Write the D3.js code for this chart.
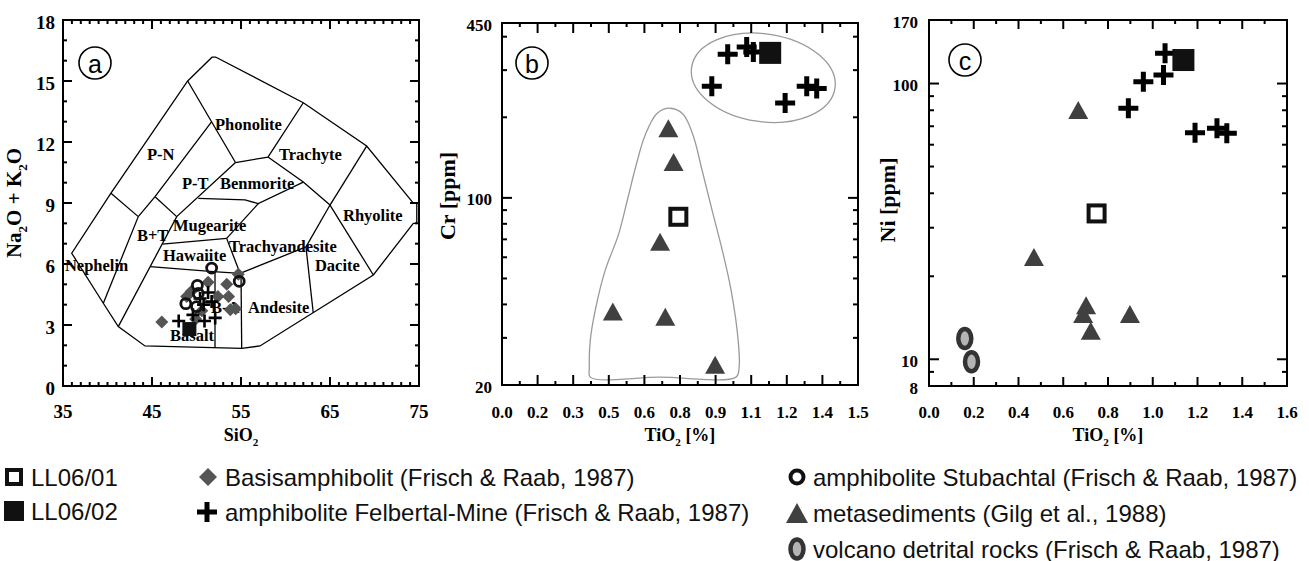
<!DOCTYPE html>
<html><head><meta charset="utf-8">
<script src="https://cdn.jsdelivr.net/npm/d3@7"></script>
<style>
body{margin:0;background:#fff;}
svg{display:block;}
</style></head><body>
<svg id="chart" width="1309" height="561"></svg>
<script>
// ---------------- DATA ----------------
// Panel a : TAS diagram (SiO2 vs Na2O+K2O)
const tasOuter = [[52.19,16.17],[51.74,16.17],[49.01,15.0],[40.39,9.48],[35.98,6.53],[39.53,4.07],[41.21,2.92],[44.21,1.97],[55.08,1.85],[57.13,1.97],[69.87,5.46],[74.36,8.0],[74.75,8.0],[74.75,8.99],[74.36,8.99],[69.12,11.80],[62.0,13.93],[52.19,16.17]];
const tasDividers = [
  [[39.53,4.07],[43.46,8.33]],
  [[40.39,9.48],[43.46,8.33]],
  [[43.46,8.33],[45.34,9.31],[51.71,13.0]],
  [[49.01,15.0],[54.38,10.99]],
  [[45.34,9.31],[47.78,8.33]],
  [[41.21,2.92],[47.78,8.33],[54.38,10.99]],
  [[54.38,10.99],[58.03,11.26],[62.0,13.93]],
  [[58.03,11.26],[62.0,10.03],[65.0,8.90]],
  [[50.20,9.23],[55.45,9.15],[56.94,8.97],[62.0,10.03]],
  [[56.94,8.97],[53.39,7.26]],
  [[46.15,6.98],[53.39,7.26]],
  [[53.39,7.26],[54.89,5.54]],
  [[44.79,5.87],[51.89,5.62],[54.89,5.54]],
  [[54.89,5.54],[62.30,6.84]],
  [[62.30,6.84],[65.0,8.90]],
  [[62.30,6.84],[63.12,3.59]],
  [[52.08,5.62],[52.08,1.88]],
  [[55.0,5.54],[55.08,1.85]],
  [[65.0,8.90],[69.87,5.46]],
  [[65.0,8.90],[69.12,11.80]]
];
const tasFieldNames = ["Phonolite","Trachyte","P-N","P-T","Benmorite","Rhyolite","Mugearite","B+T","Trachyandesite","Hawaiite","Nephelin","Dacite","B-A","Andesite","Basalt"];
const tasFieldX = [52.08,59.27,44.44,48.37,52.64,66.46,47.36,43.31,53.65,46.24,35.22,63.31,51.63,55.79,47.02];
const tasFieldY = [12.59,11.12,11.12,9.69,9.69,8.12,7.62,7.13,6.59,6.15,5.66,5.66,3.59,3.59,2.21];

const aBasisSiO2 = [46.1,48.9,49.4,51.3,53.4,54.7,53.6,53.8,54.4,50.6,52.4,49.9];
const aBasisAlk  = [3.15,4.4,4.65,5.1,5.0,5.5,4.4,3.75,3.8,3.7,4.4,3.3];
const aFelbSiO2  = [48.0,49.6,50.8,51.3,52.1,50.4,51.7,50.9];
const aFelbAlk   = [3.2,3.5,4.0,4.6,3.35,4.3,4.15,3.2];
const aStubSiO2  = [51.7,54.8,50.1,50.2,48.8,50.0];
const aStubAlk   = [5.8,5.15,4.95,4.55,4.05,3.9];
const aLL0602    = [[49.2,2.8]];
const aXTicks = [35,45,55,65,75];
const aYTicks = [0,3,6,9,12,15,18];

// Panel b : Cr vs TiO2
const bFelbTiO2 = [0.951,1.031,1.059,0.884,1.193,1.284,1.326];
const bFelbCr   = [344,366,351,261,226,261,256];
const bMetaTiO2 = [0.701,0.723,0.666,0.467,0.688,0.898];
const bMetaCr   = [182,136,68.5,37.6,36,23.8];
const bLL0601   = [[0.743,85]];
const bLL0602   = [[1.13,348]];
const bEnvelope = [[0.372,21.4],[0.666,21.4],[0.986,21.4],[0.999,23.2],[0.995,29.4],[0.965,45.3],[0.928,63.8],[0.885,90.0],[0.843,126.9],[0.805,171.4],[0.763,205.3],[0.709,216.2],[0.654,207.1],[0.603,171.4],[0.565,132.4],[0.528,98.0],[0.490,72.6],[0.435,53.7],[0.393,38.1],[0.372,29.4],[0.368,23.2]];
const bEllipseCenter = [1.101,281];
const bEllipseMajorEnd = [1.403,257];
const bEllipseMinorTop = 414;
const bXTickValues = [0,0.15,0.3,0.45,0.6,0.75,0.9,1.05,1.2,1.35,1.5];
const bXTickLabels = ["0.0","0.2","0.3","0.5","0.6","0.8","0.9","1.1","1.2","1.4","1.5"];
const bYTicks = [20,100,450];
const bYMinor = [30,40,50,60,70,80,90,200,300,400];

// Panel c : Ni vs TiO2
const cFelbTiO2 = [1.055,1.048,0.958,0.891,1.189,1.287,1.331];
const cFelbNi   = [128.7,107.4,101.5,81.3,66.3,68.8,66.0];
const cMetaTiO2 = [0.667,0.469,0.702,0.689,0.723,0.898];
const cMetaNi   = [80.2,23.5,15.7,14.6,12.7,14.6];
const cVolcTiO2 = [0.160,0.190];
const cVolcNi   = [11.9,9.8];
const cLL0601   = [[0.749,33.8]];
const cLL0602   = [[1.137,121.7]];
const cXTicks = [0,0.2,0.4,0.6,0.8,1.0,1.2,1.4,1.6];
const cXMinor = [0.1,0.3,0.5,0.7,0.9,1.1,1.3,1.5];
const cYTicks = [8,10,100,170];
const cYMinor = [9,20,30,40,50,60,70,80,90];

const legendLeft = ["LL06/01","LL06/02"];
const legendMid = ["Basisamphibolit (Frisch & Raab, 1987)","amphibolite Felbertal-Mine (Frisch & Raab, 1987)"];
const legendRight = ["amphibolite Stubachtal (Frisch & Raab, 1987)","metasediments (Gilg et al., 1988)","volcano detrital rocks (Frisch & Raab, 1987)"];

// ---------------- DRAWING ----------------
const svg = d3.select('#chart');
const SERIF = '"Liberation Serif","Times New Roman",serif';
const SANS = '"Liberation Sans",Arial,sans-serif';
const zip = (a,b)=>a.map((v,i)=>[v,b[i]]);

const xA = d3.scaleLinear([35,75],[63,419]);
const yA = d3.scaleLinear([0,18],[386,20]);
const xB = d3.scaleLinear([0,1.5],[502,858]);
const yB = d3.scaleLog([20,450],[385,23]);
const xC = d3.scaleLinear([0,1.6],[929,1287]);
const yC = d3.scaleLog([8,170],[386,20]);

function mPlus(g,x,y,h,sw){g.append('path').attr('d',`M${x-h},${y}H${x+h}M${x},${y-h}V${y+h}`).attr('stroke','#000').attr('stroke-width',sw).attr('fill','none');}
function mDiamond(g,x,y,r,fill){g.append('path').attr('d',`M${x},${y-r}L${x+r},${y}L${x},${y+r}L${x-r},${y}Z`).attr('fill',fill);}
function mTri(g,x,y,w,h,fill){g.append('path').attr('d',`M${x},${y-h/2}L${x+w/2},${y+h/2}L${x-w/2},${y+h/2}Z`).attr('fill',fill);}
function mSqFilled(g,x,y,s){g.append('rect').attr('x',x-s/2).attr('y',y-s/2).attr('width',s).attr('height',s).attr('fill','#111');}
function mSqOpen(g,x,y,s,sw){g.append('rect').attr('x',x-s/2).attr('y',y-s/2).attr('width',s).attr('height',s).attr('fill','#fff').attr('stroke','#111').attr('stroke-width',sw);}
function mCircle(g,x,y,r,sw){g.append('circle').attr('cx',x).attr('cy',y).attr('r',r).attr('fill','none').attr('stroke','#111').attr('stroke-width',sw);}
function mEllipse(g,x,y,rx,ry,sw){g.append('ellipse').attr('cx',x).attr('cy',y).attr('rx',rx).attr('ry',ry).attr('fill','#b4b4b4').attr('stroke','#333').attr('stroke-width',sw);}

function frame(g,xs,ys){
  const [x0,x1]=xs.range(), [y0,y1]=ys.range();
  g.append('rect').attr('x',x0).attr('y',y1).attr('width',x1-x0).attr('height',y0-y1)
   .attr('fill','none').attr('stroke','#000').attr('stroke-width',2);
}
function xTicks(g,xs,ys,vals,len){
  const [y0,y1]=ys.range();
  vals.forEach(v=>{const x=xs(v);
    g.append('line').attr('x1',x).attr('x2',x).attr('y1',y0).attr('y2',y0-len).attr('stroke','#000').attr('stroke-width',2);
    g.append('line').attr('x1',x).attr('x2',x).attr('y1',y1).attr('y2',y1+len).attr('stroke','#000').attr('stroke-width',2);});
}
function yTicks(g,xs,ys,vals,len){
  const [x0,x1]=xs.range();
  vals.forEach(v=>{const y=ys(v);
    g.append('line').attr('x1',x0).attr('x2',x0+len).attr('y1',y).attr('y2',y).attr('stroke','#000').attr('stroke-width',2);
    g.append('line').attr('x1',x1).attr('x2',x1-len).attr('y1',y).attr('y2',y).attr('stroke','#000').attr('stroke-width',2);});
}
function xLabels(g,xs,vals,labels,y,fs){
  vals.forEach((v,i)=>g.append('text').attr('x',xs(v)).attr('y',y).attr('text-anchor','middle')
    .attr('font-family',SERIF).attr('font-weight','bold').attr('font-size',fs).text(labels[i]));
}
function yLabels(g,ys,vals,labels,x,fs,dy){
  vals.forEach((v,i)=>g.append('text').attr('x',x).attr('y',ys(v)+dy).attr('text-anchor','end')
    .attr('dominant-baseline','central').attr('font-family',SERIF).attr('font-weight','bold').attr('font-size',fs).text(labels[i]));
}
function circLabel(g,x,y,t){
  g.append('circle').attr('cx',x).attr('cy',y).attr('r',16).attr('fill','#fff').attr('stroke','#000').attr('stroke-width',1.6);
  g.append('text').attr('x',x).attr('y',y+1).attr('text-anchor','middle').attr('dominant-baseline','central')
   .attr('font-family',SANS).attr('font-size',25).text(t);
}
function subText(g,x,y,parts,fs,rot){
  const t=g.append('text').attr('x',x).attr('y',y).attr('text-anchor','middle')
    .attr('font-family',SERIF).attr('font-weight','bold').attr('font-size',fs);
  if(rot) t.attr('transform',`rotate(-90,${x},${y})`);
  parts.forEach(p=>{
    if(p.sub){t.append('tspan').attr('dy',fs*0.28).attr('font-size',fs*0.62).text(p.t);}
    else if(p.after){t.append('tspan').attr('dy',-fs*0.28).text(p.t);}
    else t.append('tspan').text(p.t);
  });
}

// ===== Panel a =====
const gA = svg.append('g');
const lineA = d3.line().x(d=>xA(d[0])).y(d=>yA(d[1]));
gA.append('path').attr('d',lineA(tasOuter)).attr('fill','none').attr('stroke','#000').attr('stroke-width',1.3);
tasDividers.forEach(p=>gA.append('path').attr('d',lineA(p)).attr('fill','none').attr('stroke','#000').attr('stroke-width',1.3));
tasFieldNames.forEach((n,i)=>gA.append('text').attr('x',xA(tasFieldX[i])).attr('y',yA(tasFieldY[i]))
  .attr('font-family',SERIF).attr('font-weight','bold').attr('font-size',16.5).text(n));
zip(aBasisSiO2,aBasisAlk).forEach(d=>mDiamond(gA,xA(d[0]),yA(d[1]),6.5,'#555'));
zip(aFelbSiO2,aFelbAlk).forEach(d=>mPlus(gA,xA(d[0]),yA(d[1]),6.5,2.6));
zip(aStubSiO2,aStubAlk).forEach(d=>mCircle(gA,xA(d[0]),yA(d[1]),5,2.8));
aLL0602.forEach(d=>mSqFilled(gA,xA(d[0]),yA(d[1]),14));
frame(gA,xA,yA);
xTicks(gA,xA,yA,d3.range(36,75).filter(v=>(v-35)%10!==0),4);
xTicks(gA,xA,yA,aXTicks,9);
yTicks(gA,xA,yA,d3.range(1,18).filter(v=>v%3!==0),4);
yTicks(gA,xA,yA,aYTicks,9);
xLabels(gA,xA,aXTicks,aXTicks.map(String),418,19);
yLabels(gA,yA,aYTicks,aYTicks.map(String),55,19,2);
circLabel(gA,95,63,'a');
subText(gA,241,441,[{t:'SiO'},{t:'2',sub:true}],18,false);
subText(gA,21,203,[{t:'Na'},{t:'2',sub:true},{t:'O + K',after:true},{t:'2',sub:true},{t:'O',after:true}],21,true);

// ===== Panel b =====
const gB = svg.append('g');
const lineB = d3.line().x(d=>xB(d[0])).y(d=>yB(d[1])).curve(d3.curveCatmullRomClosed.alpha(0.5));
gB.append('path').attr('d',lineB(bEnvelope)).attr('fill','none').attr('stroke','#9a9a9a').attr('stroke-width',1.3);
{
  const cx=xB(bEllipseCenter[0]), cy=yB(bEllipseCenter[1]);
  const ex=xB(bEllipseMajorEnd[0]), ey=yB(bEllipseMajorEnd[1]);
  const rx=Math.hypot(ex-cx,ey-cy), ang=Math.atan2(ey-cy,ex-cx)*180/Math.PI;
  const ry=(cy-yB(bEllipseMinorTop))*0.975;
  gB.append('ellipse').attr('cx',cx).attr('cy',cy).attr('rx',rx).attr('ry',ry)
    .attr('transform',`rotate(${ang},${cx},${cy})`)
    .attr('fill','none').attr('stroke','#9a9a9a').attr('stroke-width',1.3);
}
zip(bMetaTiO2,bMetaCr).forEach(d=>mTri(gB,xB(d[0]),yB(d[1]),20,18,'#404040'));
zip(bFelbTiO2,bFelbCr).forEach(d=>mPlus(gB,xB(d[0]),yB(d[1]),10,5));
bLL0601.forEach(d=>mSqOpen(gB,xB(d[0]),yB(d[1]),16,4));
bLL0602.forEach(d=>mSqFilled(gB,xB(d[0]),yB(d[1]),22));
frame(gB,xB,yB);
xTicks(gB,xB,yB,bXTickValues.slice(0,10).map(v=>v+0.075),4);
xTicks(gB,xB,yB,bXTickValues,10);
yTicks(gB,xB,yB,bYMinor,5);
yTicks(gB,xB,yB,bYTicks,10);
xLabels(gB,xB,bXTickValues,bXTickLabels,418,17);
yLabels(gB,yB,bYTicks,bYTicks.map(String),492,17,2);
circLabel(gB,532,63,'b');
subText(gB,680,441,[{t:'TiO'},{t:'2',sub:true},{t:' [%]',after:true}],18,false);
subText(gB,455,196,[{t:'Cr [ppm]'}],22,true);

// ===== Panel c =====
const gC = svg.append('g');
zip(cVolcTiO2,cVolcNi).forEach(d=>mEllipse(gC,xC(d[0]),yC(d[1]),6.5,9.5,4.5));
zip(cMetaTiO2,cMetaNi).forEach(d=>mTri(gC,xC(d[0]),yC(d[1]),20,18,'#404040'));
zip(cFelbTiO2,cFelbNi).forEach(d=>mPlus(gC,xC(d[0]),yC(d[1]),10,5));
cLL0601.forEach(d=>mSqOpen(gC,xC(d[0]),yC(d[1]),16,4));
cLL0602.forEach(d=>mSqFilled(gC,xC(d[0]),yC(d[1]),22));
frame(gC,xC,yC);
xTicks(gC,xC,yC,cXMinor,4);
xTicks(gC,xC,yC,cXTicks,9);
yTicks(gC,xC,yC,cYMinor,5);
yTicks(gC,xC,yC,[10,100],10);
xLabels(gC,xC,cXTicks,cXTicks.map(v=>v.toFixed(1)),418,17);
yLabels(gC,yC,cYTicks,cYTicks.map(String),918,17,2);
circLabel(gC,965,60,'c');
subText(gC,1108,441,[{t:'TiO'},{t:'2',sub:true},{t:' [%]',after:true}],18,false);
subText(gC,895,200,[{t:'Ni [ppm]'}],22,true);

// ===== Legend =====
const gL = svg.append('g').attr('font-family',SANS).attr('font-size',24).attr('fill','#111');
mSqOpen(gL,14,477,14,4);
mSqFilled(gL,14,511,20);
legendLeft.forEach((t,i)=>gL.append('text').attr('x',31).attr('y',477+i*34).attr('dominant-baseline','central').text(t));
mDiamond(gL,208,477,9,'#555');
mPlus(gL,207,512,10,5);
legendMid.forEach((t,i)=>gL.append('text').attr('x',225).attr('y',477+i*35).attr('dominant-baseline','central').text(t));
mCircle(gL,797,477,6.5,4);
mTri(gL,797,513,22,20,'#404040');
mEllipse(gL,797,549,6.5,9.5,4.5);
legendRight.forEach((t,i)=>gL.append('text').attr('x',813).attr('y',477+i*36).attr('dominant-baseline','central').text(t));
</script>
</body></html>
